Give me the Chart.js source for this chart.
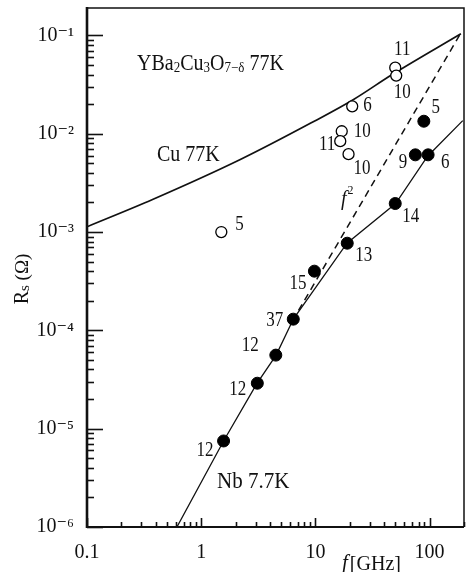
<!DOCTYPE html>
<html><head><meta charset="utf-8">
<script src="https://cdn.jsdelivr.net/npm/chart.js@4.4.1/dist/chart.umd.min.js"></script>
<style>html,body{margin:0;padding:0;background:#fff;}canvas{display:block;}</style>
</head><body>
<canvas id="c" width="471" height="572"></canvas>
<script>
// ---------- data ----------
const xTickValues = [0.1, 1, 10, 100];
const xTickLabels = ['0.1', '1', '10', '100'];
const yTickValues = [1e-6, 1e-5, 1e-4, 1e-3, 1e-2, 1e-1];
const yTickLabels = ['10⁻⁶', '10⁻⁵', '10⁻⁴', '10⁻³', '10⁻²', '10⁻¹'];

// Cu 77K (solid curve)
const cuFreq = [0.1, 0.375, 2.2, 9.2, 21.6, 47, 188];
const cuRs   = [1.13e-3, 2.14e-3, 5.46e-3, 0.0129, 0.0223, 0.040, 0.104];
// f^2 guide (dashed)
const f2Freq = [6.3, 186];
const f2Rs   = [1.25e-4, 0.104];
// Nb 7.7K (solid curve)
const nbFreq = [0.613, 1.57, 3.06, 4.53, 6.43, 18.9, 50.4, 96, 195];
const nbRs   = [1e-6, 7.5e-6, 2.85e-5, 5.6e-5, 1.31e-4, 7.7e-4, 1.95e-3, 5.9e-3, 0.0136];
// open circles (YBa2Cu3O7-δ 77K)
const openFreq = [1.5, 21, 17, 16.5, 19.5, 50, 51];
const openRs   = [1.0e-3, 0.019, 0.0106, 0.0084, 0.0062, 0.047, 0.039];
const openRefs = ['5', '6', '10', '11', '10', '11', '10'];
// filled circles
const filledFreq = [89, 75, 97, 50, 19, 9.8, 6.4, 4.5, 3.1, 1.57];
const filledRs   = [0.0134, 0.0061, 0.0061, 0.00195, 7.7e-4, 4.0e-4, 1.3e-4, 5.6e-5, 2.9e-5, 7.5e-6];
const filledRefs = ['5', '9', '6', '14', '13', '15', '37', '12', '12', '12'];

// ---------- layout (label placement relative to markers, px) ----------
const openLabelPos = [[14,-8,'left'],[11,-1,'left'],[12,0,'left'],[-5,3,'right'],[5,14,'left'],[7,-18,'center'],[6,17,'center']];
const filledLabelPos = [[12,-14,'center'],[-8,8,'right'],[13,8,'left'],[7,13,'left'],[8,12,'left'],[-8,12,'right'],[-10,1,'right'],[-17,-10,'right'],[-11,6,'right'],[-10,9,'right']];

const FAM = "'Liberation Serif','DejaVu Serif',serif";
const INK = '#111';

function labelFor(v, vals, labs) {
  for (let i = 0; i < vals.length; i++)
    if (Math.abs(Math.log10(v) - Math.log10(vals[i])) < 1e-6) return labs[i];
  return '';
}
function logTicks(min, max) {
  const out = [];
  for (let d = Math.floor(Math.log10(min)); d <= Math.ceil(Math.log10(max)); d++) {
    for (let m = 1; m <= 9; m++) {
      const v = parseFloat((m * Math.pow(10, d)).toPrecision(6));
      if (v >= min * 0.9999 && v <= max * 1.0001) out.push({ value: v, major: m === 1 });
    }
  }
  return out;
}
const pts = (xs, ys) => xs.map((x, i) => ({ x: x, y: ys[i] }));

function drawRuns(ctx, x, y, parts, sy) {
  ctx.save();
  ctx.translate(x, y);
  ctx.scale(1, sy);
  ctx.textAlign = 'left';
  ctx.textBaseline = 'middle';
  let cx = 0;
  for (const p of parts) {
    ctx.font = (p.italic ? 'italic ' : '') + p.size + 'px ' + FAM;
    ctx.fillText(p.t, cx, p.dy || 0);
    cx += ctx.measureText(p.t).width + (p.gap || 0);
  }
  ctx.restore();
}

const decor = {
  id: 'decor',
  afterDatasetsDraw(chart) {
    const ctx = chart.ctx, a = chart.chartArea;
    const xs = chart.scales.x, ys = chart.scales.y;
    ctx.save();
    ctx.strokeStyle = INK;
    ctx.lineCap = 'butt';
    // frame
    ctx.lineWidth = 1.5;
    ctx.beginPath();
    ctx.moveTo(a.left, a.top); ctx.lineTo(a.right, a.top); ctx.lineTo(a.right, a.bottom);
    ctx.stroke();
    ctx.lineWidth = 2.6;
    ctx.beginPath(); ctx.moveTo(a.left, a.top - 1); ctx.lineTo(a.left, a.bottom + 1); ctx.stroke();
    ctx.lineWidth = 2;
    ctx.beginPath(); ctx.moveTo(a.left, a.bottom); ctx.lineTo(a.right, a.bottom); ctx.stroke();
    // inward ticks
    ctx.lineWidth = 1.6;
    for (const t of ys.ticks) {
      const py = Math.round(ys.getPixelForValue(t.value)) + 0.5;
      const len = t.major ? 16 : 7;
      ctx.beginPath(); ctx.moveTo(a.left, py); ctx.lineTo(a.left + len, py); ctx.stroke();
    }
    for (const t of xs.ticks) {
      const px = Math.round(xs.getPixelForValue(t.value)) + 0.5;
      const len = t.major ? 9 : 5;
      ctx.beginPath(); ctx.moveTo(px, a.bottom); ctx.lineTo(px, a.bottom - len); ctx.stroke();
    }
    ctx.restore();

    // point reference labels
    ctx.save();
    ctx.fillStyle = INK;
    const lab = (metaIdx, refs, pos) => {
      const meta = chart.getDatasetMeta(metaIdx);
      meta.data.forEach((el, i) => {
        const p = pos[i];
        ctx.save();
        ctx.translate(el.x + p[0], el.y + p[1]);
        ctx.scale(1, 1.25);
        ctx.font = '17px ' + FAM;
        ctx.textAlign = p[2];
        ctx.textBaseline = 'middle';
        ctx.fillText(refs[i], 0, 0);
        ctx.restore();
      });
    };
    lab(0, filledRefs, filledLabelPos);
    lab(1, openRefs, openLabelPos);

    // text annotations
    drawRuns(ctx, 137, 64, [
      { t: 'YBa', size: 20 }, { t: '2', size: 13, dy: 4 }, { t: 'Cu', size: 20 }, { t: '3', size: 13, dy: 4 },
      { t: 'O', size: 20 }, { t: '7−δ', size: 13, dy: 4 }, { t: ' 77K', size: 20 }], 1.13);
    drawRuns(ctx, 157, 155, [{ t: 'Cu 77K', size: 20 }], 1.13);
    drawRuns(ctx, 217, 482, [{ t: 'Nb 7.7K', size: 21 }], 1.1);
    drawRuns(ctx, 341, 199, [{ t: 'f', size: 20, italic: true, gap: 1 }, { t: '2', size: 12, dy: -8 }], 1.1);

    // axis titles
    ctx.save();
    ctx.translate(23, 279);
    ctx.rotate(-Math.PI / 2);
    ctx.textBaseline = 'middle';
    ctx.textAlign = 'left';
    ctx.font = '20px ' + FAM; const wR = ctx.measureText('R').width;
    ctx.font = '15px ' + FAM; const wS = ctx.measureText('s').width;
    ctx.font = '19px ' + FAM; const wO = ctx.measureText(' (Ω)').width;
    let x0 = -(wR + wS + wO) / 2;
    ctx.font = '20px ' + FAM; ctx.fillText('R', x0, 0); x0 += wR;
    ctx.font = '15px ' + FAM; ctx.fillText('s', x0, 2); x0 += wS;
    ctx.font = '19px ' + FAM; ctx.fillText(' (Ω)', x0, 0);
    ctx.restore();

    drawRuns(ctx, 342, 564, [{ t: 'f', size: 21, italic: true, gap: 2 }, { t: '[GHz]', size: 20 }], 1.08);
    ctx.restore();
  }
};

new Chart(document.getElementById('c').getContext('2d'), {
  type: 'scatter',
  data: {
    datasets: [
      { label: 'filled', data: pts(filledFreq, filledRs), showLine: false,
        pointRadius: 6, pointBackgroundColor: '#000', pointBorderColor: '#000', pointBorderWidth: 1 },
      { label: 'open', data: pts(openFreq, openRs), showLine: false,
        pointRadius: 5.5, pointBackgroundColor: '#fff', pointBorderColor: '#000', pointBorderWidth: 1.3 },
      { label: 'Cu 77K', data: pts(cuFreq, cuRs), showLine: true, pointRadius: 0,
        borderColor: INK, borderWidth: 1.7, cubicInterpolationMode: 'monotone' },
      { label: 'f2', data: pts(f2Freq, f2Rs), showLine: true, pointRadius: 0,
        borderColor: INK, borderWidth: 1.5, borderDash: [7, 5] },
      { label: 'Nb 7.7K', data: pts(nbFreq, nbRs), showLine: true, pointRadius: 0,
        borderColor: INK, borderWidth: 1.3, tension: 0 }
    ]
  },
  options: {
    responsive: false, animation: false, events: [],
    layout: { padding: { left: 0, right: 3, top: 8, bottom: 0 } },
    plugins: { legend: { display: false }, tooltip: { enabled: false } },
    scales: {
      x: {
        type: 'logarithmic', min: 0.1, max: 200,
        afterBuildTicks: s => { s.ticks = logTicks(s.min, s.max); },
        afterFit: s => { s.height = 45; s.paddingLeft = 0; s.paddingRight = 0; },
        grid: { display: false }, border: { display: false },
        ticks: { autoSkip: false, maxRotation: 0, padding: 6, color: INK,
          font: { family: FAM, size: 20 },
          callback: v => labelFor(v, xTickValues, xTickLabels) }
      },
      y: {
        type: 'logarithmic', min: 1e-6, max: 0.19,
        afterBuildTicks: s => { s.ticks = logTicks(s.min, s.max); },
        afterFit: s => { s.width = 87; s.paddingTop = 0; s.paddingBottom = 0; },
        grid: { display: false }, border: { display: false },
        ticks: { autoSkip: false, padding: 5, color: INK,
          font: { family: FAM, size: 20 },
          callback: v => labelFor(v, yTickValues, yTickLabels) }
      }
    }
  },
  plugins: [decor]
});
</script>
</body></html>
